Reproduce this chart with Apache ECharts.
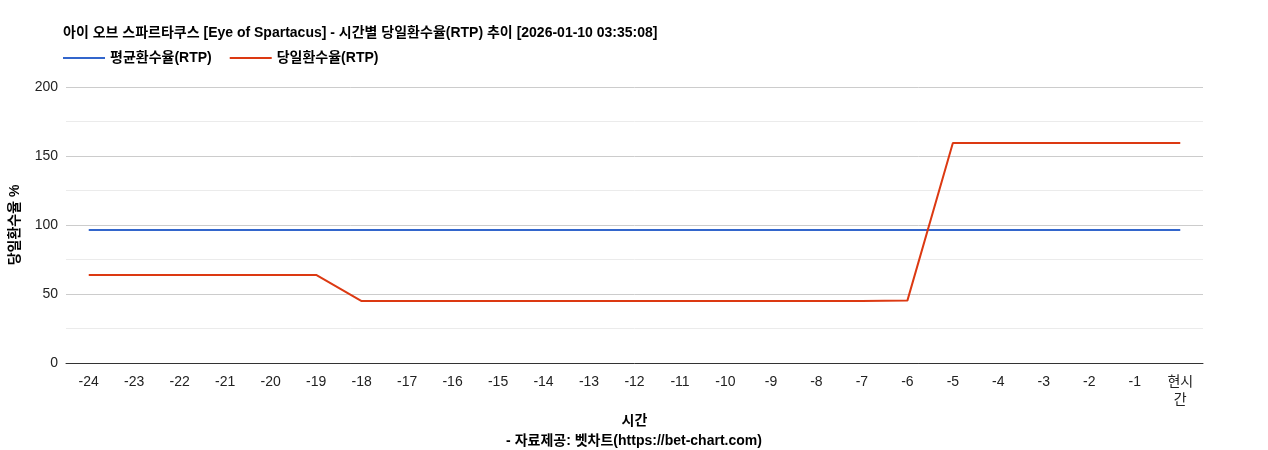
<!DOCTYPE html>
<html><head><meta charset="utf-8">
<script src="https://cdn.jsdelivr.net/npm/echarts@6/dist/echarts.min.js"></script>
<style>body{margin:0}#main{width:1268px;height:450px}</style>
</head><body><div id="main"></div>
<script>
const categories = ['-24','-23','-22','-21','-20','-19','-18','-17','-16','-15','-14','-13','-12','-11','-10','-9','-8','-7','-6','-5','-4','-3','-2','-1','현시\n간'];
const avgRtp = [96.4,96.4,96.4,96.4,96.4,96.4,96.4,96.4,96.4,96.4,96.4,96.4,96.4,96.4,96.4,96.4,96.4,96.4,96.4,96.4,96.4,96.4,96.4,96.4,96.4];
const dailyRtp = [63.8,63.8,63.8,63.8,63.8,63.8,44.9,44.9,44.9,44.9,44.9,44.9,44.9,44.9,44.9,44.9,44.9,44.9,45.2,159.4,159.4,159.4,159.4,159.4,159.4];

const font = '"Liberation Sans", Arial, "Noto Sans CJK KR", sans-serif';
const chart = echarts.init(document.getElementById('main'));
chart.setOption({
  textStyle: { fontFamily: font },
  title: [
    { text: '아이 오브 스파르타쿠스 [Eye of Spartacus] - 시간별 당일환수율(RTP) 추이 [2026-01-10 03:35:08]', left: 58, top: 21, textStyle: { fontSize: 14, fontWeight: 'bold', color: '#000', fontFamily: font } },
    { text: '- 자료제공: 벳차트(https://bet-chart.com)', left: 'center', top: 429, textStyle: { fontSize: 14, fontWeight: 'bold', color: '#000', fontFamily: font } }
  ],
  legend: {
    left: 58, top: 46, itemWidth: 42, itemHeight: 2, itemGap: 18, icon: 'rect',
    textStyle: { fontSize: 14, fontWeight: 'bold', color: '#000' },
    data: ['평균환수율(RTP)', '당일환수율(RTP)']
  },
  grid: { left: 63, right: 65, top: 87, bottom: 87 },
  xAxis: {
    type: 'category', data: categories, boundaryGap: true,
    name: '시간', nameLocation: 'middle', nameGap: 46,
    nameTextStyle: { fontSize: 14, fontWeight: 'bold', color: '#000' },
    axisLine: { lineStyle: { color: '#333' } },
    axisTick: { show: false },
    axisLabel: { color: '#222', fontSize: 14, margin: 10, interval: 0, lineHeight: 18 }
  },
  yAxis: {
    type: 'value', min: 0, max: 200, interval: 50,
    name: '당일환수율 %', nameLocation: 'middle', nameGap: 44,
    nameTextStyle: { fontSize: 14, fontWeight: 'bold', color: '#000' },
    axisLabel: { color: '#222', fontSize: 14 },
    splitLine: { lineStyle: { color: '#ccc' } },
    minorTick: { show: false, splitNumber: 2 },
    minorSplitLine: { show: true, lineStyle: { color: '#ebebeb' } }
  },
  series: [
    { name: '평균환수율(RTP)', type: 'line', data: avgRtp, showSymbol: false, symbol: 'none', lineStyle: { width: 2, color: '#3366cc' }, itemStyle: { color: '#3366cc' } },
    { name: '당일환수율(RTP)', type: 'line', data: dailyRtp, showSymbol: false, symbol: 'none', lineStyle: { width: 2, color: '#dc3912' }, itemStyle: { color: '#dc3912' } }
  ]
});
</script></body></html>
